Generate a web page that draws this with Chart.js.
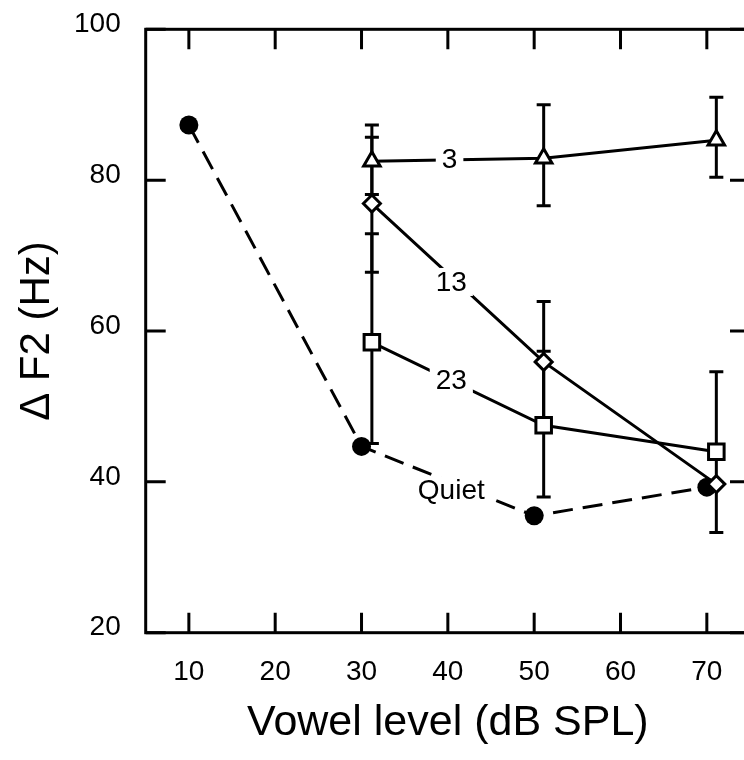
<!DOCTYPE html>
<html>
<head>
<meta charset="utf-8">
<script src="https://cdn.jsdelivr.net/npm/chart.js@4/dist/chart.umd.min.js"></script>
<style>
  html, body { margin: 0; padding: 0; background: #fff; overflow: hidden; }
  #wrap { width: 800px; height: 760px; }
</style>
</head>
<body>
<div id="wrap"><canvas id="c" width="800" height="760"></canvas></div>
<script>
// Vowel levels (dB SPL)
const quietLevels = [10, 30, 50, 70];
const maskedLevels = [31.2, 51.1, 71.1];

// Delta F2 thresholds (Hz)
const quietDF2 = [87.3, 44.7, 35.5, 39.3];

const masker3 = [82.5, 82.9, 85.3];
const masker3Lo = [78.1, 76.6, 80.4];
const masker3Hi = [87.3, 90.0, 91.0];

const masker13 = [76.9, 55.9, 39.7];
const masker13Lo = [67.8, 48.0, null];
const masker13Hi = [85.7, 63.9, null];

const masker23 = [58.5, 47.5, 44.0];
const masker23Lo = [45.1, 38.0, 33.3];
const masker23Hi = [72.9, 57.3, 54.6];

// Axis ticks
const xTicks = [10, 20, 30, 40, 50, 60, 70];
const yTicks = [20, 40, 60, 80, 100];

// In-line curve labels (text and data position)
const curveLabels = ['3', '13', '23', 'Quiet'];
const curveLabelX = [40.2, 40.4, 40.4, 40.4];
const curveLabelY = [82.8, 66.5, 53.5, 38.9];

const FONT = '"Liberation Sans", Arial, Helvetica, sans-serif';

const pts = (xs, ys) => xs.map((v, i) => ({ x: v, y: ys[i] }));

const errorSets = [
  { lo: masker3Lo, hi: masker3Hi },
  { lo: masker13Lo, hi: masker13Hi },
  { lo: masker23Lo, hi: masker23Hi }
];

// Vertical error bars with caps, drawn beneath the markers
const errorBars = {
  id: 'errorBars',
  beforeDatasetsDraw(chart) {
    const { ctx, scales: { x, y } } = chart;
    ctx.save();
    ctx.strokeStyle = '#000';
    ctx.lineWidth = 3;
    ctx.lineCap = 'butt';
    errorSets.forEach(s => {
      s.lo.forEach((lo, i) => {
        const hi = s.hi[i];
        if (lo == null || hi == null) return;
        const px = x.getPixelForValue(maskedLevels[i]);
        const y1 = y.getPixelForValue(lo);
        const y2 = y.getPixelForValue(hi);
        ctx.beginPath();
        ctx.moveTo(px, y1); ctx.lineTo(px, y2);
        ctx.moveTo(px - 7, y1); ctx.lineTo(px + 7, y1);
        ctx.moveTo(px - 7, y2); ctx.lineTo(px + 7, y2);
        ctx.stroke();
      });
    });
    ctx.restore();
  }
};

// Labels sitting on the curves, with a white gap in the line
const lineLabels = {
  id: 'lineLabels',
  afterDatasetsDraw(chart) {
    const { ctx, scales: { x, y } } = chart;
    ctx.save();
    ctx.font = '28px ' + FONT;
    ctx.textAlign = 'center';
    ctx.textBaseline = 'middle';
    curveLabels.forEach((t, i) => {
      const px = x.getPixelForValue(curveLabelX[i]);
      const py = y.getPixelForValue(curveLabelY[i]);
      const w = ctx.measureText(t).width + 12;
      ctx.fillStyle = '#fff';
      ctx.fillRect(px - w / 2, py - 14, w, 28);
      ctx.fillStyle = '#000';
      ctx.fillText(t, px, py + 1);
    });
    ctx.restore();
  }
};

// Box frame with inward tick marks on all four sides
const frame = {
  id: 'frame',
  afterDraw(chart) {
    const { ctx, chartArea: a, scales: { x, y } } = chart;
    const len = 20;
    ctx.save();
    ctx.strokeStyle = '#000';
    ctx.lineWidth = 3;
    ctx.lineCap = 'butt';
    ctx.strokeRect(a.left, a.top, a.right - a.left, a.bottom - a.top);
    ctx.beginPath();
    xTicks.forEach(v => {
      const px = x.getPixelForValue(v);
      ctx.moveTo(px, a.bottom); ctx.lineTo(px, a.bottom - len);
      ctx.moveTo(px, a.top); ctx.lineTo(px, a.top + len);
    });
    yTicks.forEach(v => {
      const py = y.getPixelForValue(v);
      ctx.moveTo(a.left, py); ctx.lineTo(a.left + len, py);
      ctx.moveTo(a.right, py); ctx.lineTo(a.right - len, py);
    });
    ctx.stroke();
    ctx.restore();
  }
};

const lineBase = {
  borderColor: '#000',
  borderWidth: 3,
  pointBorderColor: '#000',
  pointBackgroundColor: '#fff',
  pointBorderWidth: 3,
  fill: false,
  tension: 0
};

new Chart(document.getElementById('c'), {
  type: 'line',
  data: {
    datasets: [
      Object.assign({}, lineBase, { label: '3', data: pts(maskedLevels, masker3), pointStyle: 'triangle', pointRadius: 9.5 }),
      Object.assign({}, lineBase, { label: '13', data: pts(maskedLevels, masker13), pointStyle: 'rectRot', pointRadius: 8.5 }),
      Object.assign({}, lineBase, { label: '23', data: pts(maskedLevels, masker23), pointStyle: 'rect', pointRadius: 11 }),
      Object.assign({}, lineBase, {
        label: 'Quiet', data: pts(quietLevels, quietDF2), pointStyle: 'circle', pointRadius: 9.5,
        pointBackgroundColor: '#000', pointBorderWidth: 0, borderDash: [20, 10]
      })
    ]
  },
  options: {
    responsive: false,
    animation: false,
    devicePixelRatio: 1,
    layout: { padding: { left: 0, right: 50, top: 29.3, bottom: 0 } },
    plugins: { legend: { display: false }, tooltip: { enabled: false } },
    scales: {
      x: {
        type: 'linear',
        min: 5,
        max: 75,
        afterBuildTicks: s => { s.ticks = xTicks.map(v => ({ value: v })); },
        afterFit: s => { s.height = 127.3; s.paddingLeft = 0; s.paddingRight = 0; },
        grid: { display: false, drawTicks: false },
        border: { display: false },
        ticks: { color: '#000', font: { family: FONT, size: 28 }, padding: 23, maxRotation: 0, autoSkip: false },
        title: { display: true, text: 'Vowel level (dB SPL)', color: '#000', font: { family: FONT, size: 43 }, padding: { top: 0, bottom: 11 } }
      },
      y: {
        type: 'linear',
        min: 20,
        max: 100,
        afterBuildTicks: s => { s.ticks = yTicks.map(v => ({ value: v })); },
        afterFit: s => { s.width = 145.7; s.paddingTop = 0; s.paddingBottom = 0; },
        grid: { display: false, drawTicks: false },
        border: { display: false },
        ticks: { color: '#000', font: { family: FONT, size: 28 }, padding: 25, labelOffset: -5 },
        title: { display: true, text: 'Δ F2 (Hz)', color: '#000', font: { family: FONT, size: 42 }, padding: { top: 12, bottom: 0 } }
      }
    }
  },
  plugins: [errorBars, lineLabels, frame]
});
</script>
</body>
</html>
